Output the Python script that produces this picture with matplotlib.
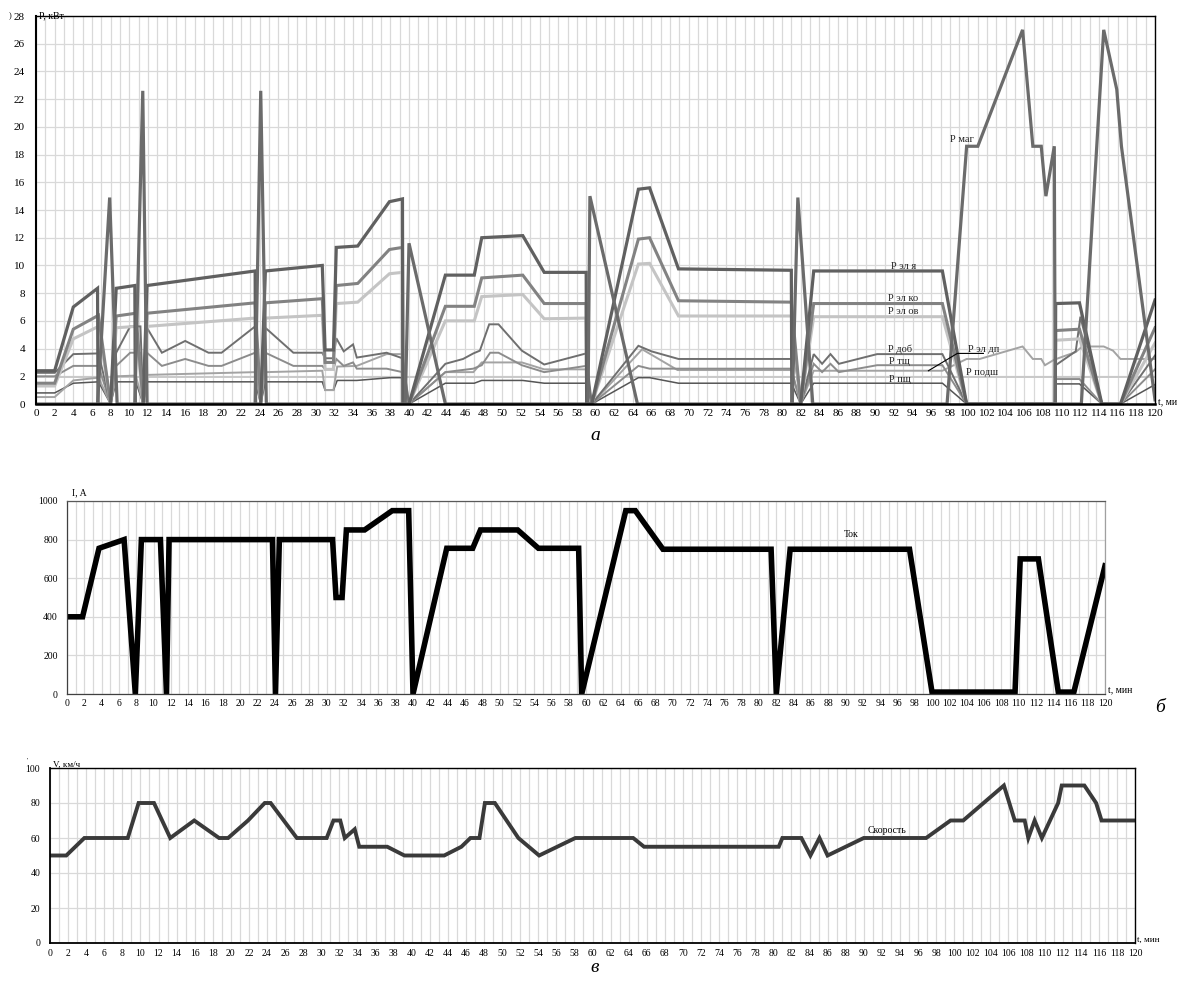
import matplotlib.pyplot as plt
from matplotlib.ticker import MultipleLocator

plt.rcParams['font.family'] = ['Liberation Serif', 'DejaVu Serif']

# ---- (а) мощности, кВт ----
t_el_ya = [0, 2, 4, 6.6, 6.65, 8.0, 8.6, 10.6, 10.65, 11.5, 11.9, 23.5, 23.55, 24.1, 24.6, 30.7, 31.0, 31.9, 32.2,
           34.5, 37.9, 39.3, 39.35, 40, 43.9, 47, 47.8, 52.2, 54.5, 59.0, 59.05, 59.6, 64.6, 65.8, 68.9, 81.0, 81.05,
           82.0, 83.4, 97.2, 99.8, 109.3, 109.35, 111.9, 114.3, 116.3, 120]
p_el_ya = [2.4, 2.4, 7.0, 8.35, 0, 0, 8.35, 8.55, 0, 0, 8.55, 9.6, 0, 0, 9.6, 10.0, 3.9, 3.9, 11.3,
           11.4, 14.6, 14.8, 0, 0, 9.3, 9.3, 12.0, 12.15, 9.5, 9.5, 0, 0, 15.5, 15.6, 9.75, 9.65, 0,
           0, 9.6, 9.6, 0, 0, 7.25, 7.3, 0, 0, 7.5]

t_el_ko = [0, 2, 4, 6.7, 8.0, 8.6, 10.7, 11.5, 11.9, 23.5, 24.1, 24.6, 30.7, 31.0, 31.9, 32.2, 34.5, 37.9, 39.3,
           39.35, 40, 43.9, 47, 47.8, 52.2, 54.5, 59.0, 59.05, 59.6, 64.6, 65.8, 68.9, 81.0, 82.0, 83.4, 97.2,
           99.8, 109.3, 109.35, 111.9, 114.3, 116.3, 120]
p_el_ko = [1.5, 1.5, 5.4, 6.4, 0, 6.35, 6.55, 0, 6.55, 7.3, 0, 7.3, 7.6, 3.0, 3.0, 8.55, 8.7, 11.15, 11.3,
           0, 0, 7.05, 7.05, 9.1, 9.3, 7.25, 7.25, 0, 0, 11.9, 12.0, 7.45, 7.35, 0, 7.25, 7.25,
           0, 0, 5.3, 5.4, 0, 0, 5.5]

t_el_ov = t_el_ko
p_el_ov = [1.3, 1.3, 4.7, 5.6, 0, 5.5, 5.6, 0, 5.6, 6.2, 0, 6.2, 6.4, 2.5, 2.5, 7.25, 7.35, 9.4, 9.5,
           0, 0, 6.0, 6.0, 7.75, 7.9, 6.15, 6.2, 0, 0, 10.1, 10.15, 6.35, 6.35, 0, 6.3, 6.3,
           0, 0, 4.6, 4.7, 0, 0, 4.4]

t_dob = [0, 2, 4, 6.7, 8.0, 8.6, 10.1, 11.2, 11.5, 11.9, 13.5, 16.0, 18.5, 19.9, 23.5, 24.1, 24.6, 27.6, 30.7,
         31.0, 31.9, 32.2, 33.0, 34.0, 34.4, 37.6, 39.3, 40, 43.9, 45.8, 46.9, 47.6, 48.6, 49.6, 52.1, 54.5,
         59.0, 59.6, 64.6, 66.0, 68.9, 81.0, 81.3, 82.0, 83.4, 84.3, 85.2, 86.1, 90.2, 97.2, 99.8, 109.3,
         109.35, 111.5, 112.0, 114.3, 116.3, 120]
p_dob = [2.25, 2.25, 3.6, 3.65, 0, 3.7, 5.6, 5.6, 0, 5.5, 3.7, 4.55, 3.7, 3.7, 5.6, 0, 5.5, 3.7, 3.7,
         3.3, 3.3, 4.75, 3.8, 4.3, 3.35, 3.7, 3.3, 0, 2.9, 3.25, 3.65, 3.85, 5.75, 5.75, 3.85, 2.85,
         3.65, 0, 4.2, 3.8, 3.25, 3.25, 3.6, 0, 3.6, 2.9, 3.6, 2.9, 3.6, 3.6, 0, 0,
         2.8, 3.8, 6.3, 0, 0, 3.5]

t_tsch = [0, 2, 4, 6.7, 8.0, 8.6, 10.1, 11.2, 11.5, 11.9, 13.5, 16.0, 18.5, 19.9, 23.5, 24.1, 24.6, 27.6, 30.7,
          31.0, 31.9, 32.2, 33.0, 34.0, 34.4, 37.6, 39.3, 40, 43.9, 46.9, 47.8, 48.7, 49.6, 52.1, 54.5, 59.0,
          59.6, 64.6, 65.8, 81.0, 82.0, 83.4, 84.3, 85.2, 86.1, 90.2, 97.2, 99.8, 109.3, 109.35, 111.9, 114.3,
          116.3, 120]
p_tsch = [2.0, 2.0, 2.75, 2.75, 0, 2.75, 3.7, 3.7, 0, 3.7, 2.75, 3.25, 2.75, 2.75, 3.7, 0, 3.7, 2.75, 2.75,
          2.5, 2.5, 3.25, 2.75, 3.0, 2.55, 2.55, 2.3, 0, 2.3, 2.55, 2.8, 3.7, 3.7, 2.8, 2.3, 2.75,
          0, 2.75, 2.55, 2.55, 0, 2.9, 2.3, 2.9, 2.3, 2.8, 2.8, 0, 0, 1.8, 1.8, 0,
          0, 2.5]

t_psch = [0, 2, 4, 6.7, 8.0, 8.6, 10.7, 11.5, 11.9, 23.5, 24.1, 24.6, 30.7, 31.0, 31.9, 32.3, 34.4, 38.0, 39.3,
          40, 43.9, 47, 47.8, 52.2, 54.5, 59.0, 59.6, 64.6, 65.8, 68.9, 81.0, 82.0, 83.4, 97.2, 99.8, 109.3,
          109.35, 111.9, 114.3, 116.3, 120]
p_psch = [0.8, 0.8, 1.5, 1.6, 0, 1.6, 1.6, 0, 1.6, 1.6, 0, 1.6, 1.6, 1.0, 1.0, 1.7, 1.7, 1.9, 1.9,
          0, 1.5, 1.5, 1.7, 1.7, 1.5, 1.5, 0, 1.9, 1.9, 1.5, 1.5, 0, 1.5, 1.5, 0, 0,
          1.45, 1.45, 0, 0, 1.4]

t_el_dp = [0, 2, 4, 6.7, 8.0, 8.6, 10.7, 11.5, 11.9, 23.5, 24.1, 24.6, 30.7, 31.0, 31.9, 32.3, 34.4, 37.6, 39.3,
           40, 43.9, 46.9, 47.8, 52.1, 54.5, 59.0, 59.6, 65.0, 68.8, 81.0, 82.0, 83.4, 97.2, 99.8, 101.2,
           105.8, 106.9, 107.8, 108.2, 109.2, 111.5, 112.2, 114.5, 115.5, 116.3, 120]
p_el_dp = [0.5, 0.5, 1.7, 1.9, 0, 2.0, 2.05, 0, 2.1, 2.3, 0, 2.3, 2.4, 1.0, 1.0, 2.7, 2.75, 3.6, 3.6,
           0, 2.3, 2.3, 3.0, 3.0, 2.5, 2.5, 0, 3.95, 2.45, 2.45, 0, 2.4, 2.4, 3.25, 3.25,
           4.15, 3.25, 3.25, 2.8, 3.2, 3.75, 4.15, 4.15, 3.85, 3.25, 3.25]

t_podsh = [0, 120]
p_podsh = [1.95, 1.95]

t_mag = [0, 6.6, 7.9, 8.7, 10.6, 11.45, 11.9, 23.5, 24.1, 24.7, 39.6, 40.0, 43.9, 59.2, 59.4, 64.5, 81.1, 81.7,
         83.3, 97.7, 99.8, 101.0, 105.8, 106.9, 107.8, 108.3, 109.2, 109.3, 112.1, 114.5, 115.9, 116.4, 120]
p_mag = [0, 0, 14.9, 0, 0, 22.6, 0, 0, 22.6, 0, 0, 11.6, 0, 0, 15.0, 0, 0, 14.9,
         0, 0, 18.6, 18.6, 27.0, 18.6, 18.6, 15.0, 18.6, 0, 0, 27.0, 22.7, 18.6, 0.3]

# ---- (б) ток, А ----
t_cur = [0, 1.8, 3.7, 6.6, 7.9, 8.6, 10.8, 11.5, 11.8, 23.75, 24.1, 24.55, 30.7, 31.1, 31.8, 32.3, 34.4, 37.6,
         39.5, 40, 43.9, 46.9, 47.8, 52.1, 54.5, 59.15, 59.5, 64.6, 65.7, 68.9, 81.4, 82.0, 83.6, 97.4, 100,
         109.6, 110.2, 112.3, 114.6, 116.4, 120]
i_cur = [400, 400, 755, 800, 0, 800, 800, 0, 800, 800, 0, 800, 800, 500, 500, 850, 850, 950,
         950, 0, 755, 755, 850, 850, 755, 755, 0, 950, 950, 750, 750, 0, 750, 750, 10,
         10, 700, 700, 10, 10, 664]

# ---- (в) скорость, км/ч ----
t_spd = [0, 1.8, 3.8, 8.6, 9.8, 11.5, 13.3, 15.95, 18.7, 19.7, 21.9, 23.75, 24.4, 27.3, 30.6, 31.35, 32.1, 32.6,
         33.7, 34.2, 37.3, 39.2, 43.6, 45.5, 46.5, 47.5, 48.1, 49.2, 50.5, 51.8, 54.1, 58.1, 64.5, 65.7, 80.6,
         81.0, 83.1, 84.1, 85.1, 86.0, 90.0, 96.9, 99.6, 101.0, 105.5, 106.7, 107.8, 108.2, 108.9, 109.7, 111.5,
         111.9, 114.4, 115.7, 116.3, 120]
v_spd = [50, 50, 60, 60, 80, 80, 60, 70, 60, 60, 70, 80, 80, 60, 60, 70, 70, 60,
         65, 55, 55, 50, 50, 55, 60, 60, 80, 80, 70, 60, 50, 60, 60, 55, 55,
         60, 60, 50, 60, 50, 60, 60, 70, 70, 90, 70, 70, 60, 70, 60, 80,
         90, 90, 80, 70, 70]

W, H = 1183, 984


def box(l, t, r, b):
    return [l / W, 1 - b / H, (r - l) / W, (b - t) / H]


fig = plt.figure(figsize=(W / 100, H / 100), dpi=100)

grid_kw = dict(color='#d9d9d9', linewidth=0.9)


def setup(ax, ymax, ystep, fs, ypad, xpad):
    ax.set_xlim(0, 120)
    ax.set_ylim(0, ymax)
    ax.xaxis.set_major_locator(MultipleLocator(2))
    ax.xaxis.set_minor_locator(MultipleLocator(1))
    ax.yaxis.set_major_locator(MultipleLocator(ystep))
    ax.grid(True, which='both', axis='x', **grid_kw)
    ax.grid(True, which='major', axis='y', **grid_kw)
    ax.set_axisbelow(True)
    ax.tick_params(which='both', length=0)
    ax.tick_params(axis='x', labelsize=fs, pad=xpad)
    ax.tick_params(axis='y', labelsize=fs, pad=ypad)


# ---------------- а ----------------
ax1 = fig.add_axes(box(36, 16, 1155, 404))
setup(ax1, 28, 2, 8, 8, 3.5)
for s in ax1.spines.values():
    s.set_color('black')
    s.set_linewidth(1.0)
ax1.spines['bottom'].set_linewidth(1.8)
ax1.spines['left'].set_linewidth(1.5)

series = [
    (t_podsh, p_podsh, '#c9c9c9', 1.4),
    (t_psch, p_psch, '#555555', 1.1),
    (t_el_dp, p_el_dp, '#a3a3a3', 1.4),
    (t_tsch, p_tsch, '#8c8c8c', 1.4),
    (t_dob, p_dob, '#6f6f6f', 1.4),
    (t_el_ov, p_el_ov, '#c4c4c4', 2.2),
    (t_el_ko, p_el_ko, '#828282', 2.2),
    (t_el_ya, p_el_ya, '#606060', 2.3),
    (t_mag, p_mag, '#6b6b6b', 2.3),
]
for tt, pp, c, lw in series:
    ax1.plot(tt, pp, color=c, linewidth=lw, solid_joinstyle='miter')

lab_kw = dict(fontsize=7.5, ha='center', va='center', color='#222222')
ax1.text(99.3, 19.1, 'Р маг', **lab_kw)
ax1.text(93.0, 9.9, 'Р эл я', **lab_kw)
ax1.text(93.0, 7.6, 'Р эл ко', **lab_kw)
ax1.text(93.0, 6.7, 'Р эл ов', **lab_kw)
ax1.text(92.7, 3.95, 'Р доб', **lab_kw)
ax1.text(92.6, 3.1, 'Р тщ', **lab_kw)
ax1.text(92.6, 1.8, 'Р пщ', **lab_kw)
ax1.text(101.6, 3.95, 'Р эл дп', **lab_kw)
ax1.text(101.4, 2.3, 'Р подш', **lab_kw)
ax1.plot([95.7, 98.8, 101.6], [2.4, 3.65, 3.65], color='black', linewidth=0.8)

ax1.text(0.003, 1.0, 'Р, кВт', transform=ax1.transAxes, fontsize=7, ha='left', va='center')
ax1.text(1.003, 0.005, 't, ми', transform=ax1.transAxes, fontsize=7, ha='left', va='center')
fig.text(10 / W, 1 - 16 / H, ')', fontsize=6, ha='center', va='center')
fig.text(595 / W, 1 - 435 / H, 'а', fontsize=14, style='italic', ha='center', va='center')

# ---------------- б ----------------
ax2 = fig.add_axes(box(67, 501, 1105, 694))
setup(ax2, 1000, 200, 7, 6.5, 3.5)
for s in ax2.spines.values():
    s.set_linewidth(0.9)
ax2.spines['left'].set_color('#404040')
ax2.spines['bottom'].set_color('#404040')
ax2.spines['top'].set_color('#595959')
ax2.spines['right'].set_color('#a0a0a0')
ax2.plot(t_cur, i_cur, color='black', linewidth=4.0, solid_joinstyle='miter')
ax2.text(90.6, 824, 'Ток', fontsize=7, ha='center', va='center')
ax2.text(0.005, 1.04, 'I, A', transform=ax2.transAxes, fontsize=7, ha='left', va='center')
ax2.text(1.003, 0.02, 't, мин', transform=ax2.transAxes, fontsize=7, ha='left', va='center')
fig.text(1160 / W, 1 - 708 / H, 'б', fontsize=14, style='italic', ha='center', va='center')

# ---------------- в ----------------
ax3 = fig.add_axes(box(50, 768, 1135, 943))
setup(ax3, 100, 20, 7, 7, 4)
for s in ax3.spines.values():
    s.set_color('black')
    s.set_linewidth(1.0)
ax3.spines['bottom'].set_linewidth(1.3)
ax3.spines['left'].set_linewidth(1.3)
ax3.plot(t_spd, v_spd, color='#3a3a3a', linewidth=2.8, solid_joinstyle='miter')
ax3.text(92.6, 64.5, 'Скорость', fontsize=7, ha='center', va='center')
ax3.text(0.003, 1.02, 'V, км/ч', transform=ax3.transAxes, fontsize=6.5, ha='left', va='center')
ax3.text(1.002, 0.02, 't, мин', transform=ax3.transAxes, fontsize=6.5, ha='left', va='center')
fig.text(27 / W, 1 - 760 / H, "'", fontsize=5, ha='center', va='center')
fig.text(595 / W, 1 - 968 / H, 'в', fontsize=14, style='italic', ha='center', va='center')

fig.savefig('out.png', dpi=100)
